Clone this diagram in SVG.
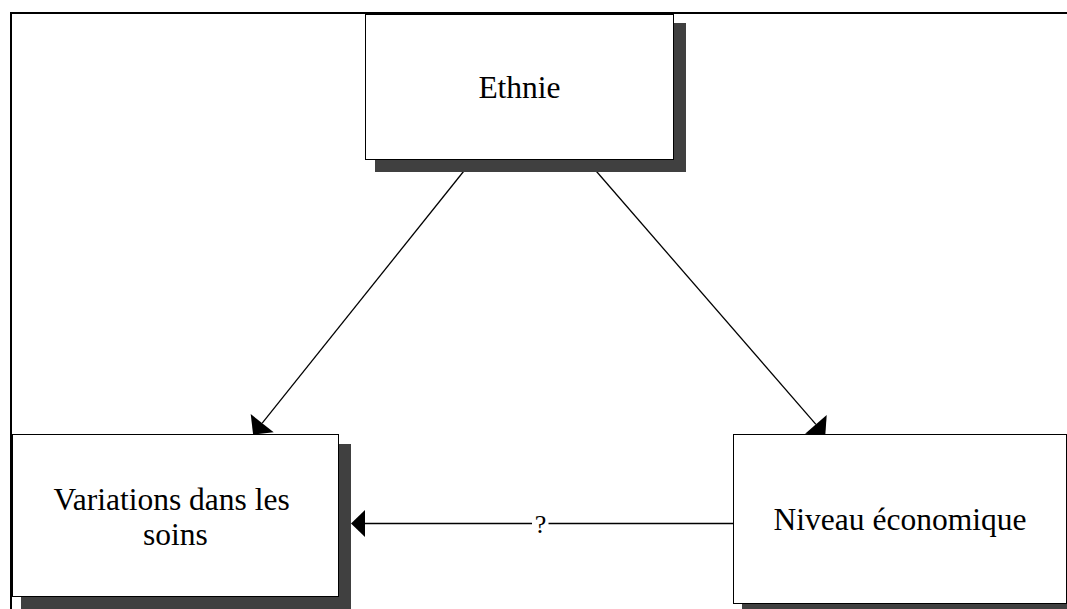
<svg xmlns="http://www.w3.org/2000/svg" width="1067" height="609" viewBox="0 0 1067 609">
  <style>
    .frame { fill: none; stroke: #000; stroke-width: 2; }
    .box { fill: #fff; stroke: #000; stroke-width: 1; }
    .shadow { fill: #404040; stroke: none; }
    .label { font-family: "Liberation Serif", "Times New Roman", serif; font-size: 31.5px; fill: #000; text-anchor: middle; }
    .edge { fill: none; stroke: #000; stroke-width: 1.3; }
    .head { fill: #000; stroke: none; }
    .edge-label { font-family: "Liberation Serif", "Times New Roman", serif; font-size: 26px; fill: #000; text-anchor: middle; }
  </style>

  <rect width="1067" height="609" fill="#fff"/>

  <!-- outer frame (top and left edges) -->
  <path class="frame" d="M11 609 V13 H1067"/>

  <!-- connectors -->
  <g id="connectors">
    <!-- Ethnie -> Variations dans les soins -->
    <line class="edge" x1="473.5" y1="159" x2="262.2" y2="423.1"/>
    <polygon class="head" points="250.7,414 273.7,432.3 253.1,434.6"/>
    <!-- Ethnie -> Niveau économique -->
    <line class="edge" x1="585.7" y1="159" x2="815.9" y2="424.4"/>
    <polygon class="head" points="826.7,415 805.1,433.8 825.3,435.2"/>
    <!-- Niveau économique -> Variations dans les soins -->
    <line class="edge" x1="733" y1="523.5" x2="364" y2="523.5"/>
    <polygon class="head" points="351,523.5 365,510 365,537"/>
    <rect x="532" y="510" width="16.5" height="27" fill="#fff"/>
    <text class="edge-label" x="540.5" y="532.5">?</text>
  </g>

  <!-- nodes -->
  <g id="node-ethnie">
    <rect class="shadow" x="375" y="23" width="311" height="149"/>
    <rect class="box" x="365.5" y="14.5" width="308" height="145"/>
    <text class="label" x="519.5" y="98">Ethnie</text>
  </g>

  <g id="node-variations">
    <rect class="shadow" x="21" y="444" width="330" height="170"/>
    <rect class="box" x="12.5" y="434.5" width="326" height="162"/>
    <text class="label" x="171.6" y="509.5">Variations dans les</text>
    <text class="label" x="175.5" y="545">soins</text>
  </g>

  <g id="node-niveau">
    <rect class="shadow" x="742" y="444" width="340" height="170"/>
    <rect class="box" x="733.5" y="434.5" width="333" height="169"/>
    <text class="label" x="900" y="530">Niveau économique</text>
  </g>
</svg>
